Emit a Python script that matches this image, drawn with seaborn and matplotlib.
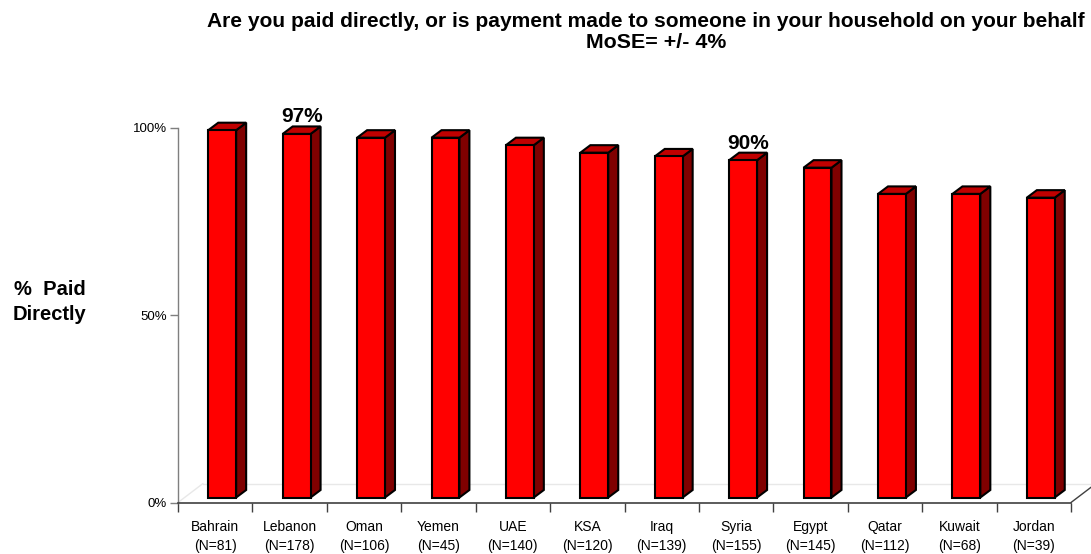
import numpy as np
import pandas as pd
import matplotlib
matplotlib.use("Agg")
import matplotlib.pyplot as plt
from matplotlib.patches import Polygon
from matplotlib.transforms import offset_copy
import seaborn as sns

# ---- data -------------------------------------------------------------
countries = ["Bahrain", "Lebanon", "Oman", "Yemen", "UAE", "KSA",
             "Iraq", "Syria", "Egypt", "Qatar", "Kuwait", "Jordan"]
sample_sizes = [81, 178, 106, 45, 140, 120, 139, 155, 145, 112, 68, 39]
paid_directly = [98, 97, 96, 96, 94, 92, 91, 90, 88, 81, 81, 80]
value_labels = ["", "97%", "", "", "", "", "", "90%", "", "", "", ""]
y_ticks = [0, 50, 100]
y_tick_labels = ["0%", "50%", "100%"]
title_lines = ["Are you paid directly, or is payment made to someone in your household on your behalf",
               "MoSE= +/- 4%"]
y_title = "%  Paid\nDirectly"

# ---- style ------------------------------------------------------------
sns.set_style("white")
plt.rcParams["font.family"] = ["Liberation Sans", "DejaVu Sans"]
plt.rcParams["text.color"] = "black"

df = pd.DataFrame({
    "label": [f"{c}\n(N={n})" for c, n in zip(countries, sample_sizes)],
    "value": paid_directly,
})

W, H = 1091, 554
fig = plt.figure(figsize=(W / 100, H / 100), dpi=100)
ax = fig.add_axes([178 / W, 1 - 502.5 / H, (1071 - 178) / W, (502.5 - 127.7) / H])

# oblique 3-D offsets, in pixels
FRONT_DX, FRONT_DY = 7, 5      # bars stand a little behind the floor edge
BAR_DX, BAR_DY = 10, 7.5       # depth of each bar
FLOOR_DX, FLOOR_DY = 25, 19    # depth of the floor

FRONT_RED, TOP_RED, SIDE_RED = "#FF0000", "#C00000", "#800000"

sns.barplot(data=df, x="label", y="value", color=FRONT_RED, saturation=1,
            width=0.375, edgecolor="black", linewidth=1.5, errorbar=None,
            ax=ax, zorder=3)

ax.set_xlim(-0.5, len(countries) - 0.5)
ax.set_ylim(0, 100)
ax.set_xlabel("")
ax.set_ylabel("")

# pixel size of one data unit
o = ax.transData.transform((0, 0))
sx = ax.transData.transform((1, 0))[0] - o[0]
sy = ax.transData.transform((0, 1))[1] - o[1]

front = offset_copy(ax.transData, fig=fig, x=FRONT_DX, y=FRONT_DY, units="dots")
ddx, ddy = BAR_DX / sx, BAR_DY / sy

for p in ax.patches:
    x0, w, h = p.get_x(), p.get_width(), p.get_height()
    x1 = x0 + w
    p.set_transform(front)
    p.set_clip_on(False)
    p.set_joinstyle("miter")
    side = [(x1, 0), (x1 + ddx, ddy), (x1 + ddx, h + ddy), (x1, h)]
    top = [(x0, h), (x1, h), (x1 + ddx, h + ddy), (x0 + ddx, h + ddy)]
    for pts, fc in ((side, SIDE_RED), (top, TOP_RED)):
        ax.add_patch(Polygon(pts, closed=True, facecolor=fc, edgecolor="black",
                             linewidth=1.5, joinstyle="miter", transform=front,
                             clip_on=False, zorder=2))

# floor outline
fdx, fdy = FLOOR_DX / sx, FLOOR_DY / sy
n = len(countries)
ax.plot([-0.5 + fdx, n - 0.5 + fdx], [fdy, fdy], color="#e8e8e8", lw=1,
        clip_on=False, zorder=0)
ax.plot([-0.5, -0.5 + fdx], [0, fdy], color="#e8e8e8", lw=1,
        clip_on=False, zorder=0)
ax.plot([n - 0.5, n - 0.5 + fdx], [0, fdy], color="#404040", lw=1,
        clip_on=False, zorder=1)

# value labels
lab_tr = offset_copy(ax.transData, fig=fig, x=FRONT_DX + BAR_DX / 2,
                     y=FRONT_DY + BAR_DY + 4, units="dots")
for i, (v, lab) in enumerate(zip(paid_directly, value_labels)):
    if lab:
        ax.text(i, v, lab, transform=lab_tr, ha="center", va="baseline",
                fontsize=15, fontweight="bold", color="black")

# axes styling
for s in ("top", "right"):
    ax.spines[s].set_visible(False)
ax.spines["left"].set_color("#7f7f7f")
ax.spines["left"].set_linewidth(1)
ax.spines["bottom"].set_color("#404040")
ax.spines["bottom"].set_linewidth(1.2)

ax.set_xticks(range(n))
ax.set_xticklabels(df["label"], fontsize=10, linespacing=1.5, color="black")
ax.set_xticks(np.arange(-0.5, n, 1), minor=True)
ax.tick_params(axis="x", which="major", bottom=True, length=0, pad=12.5)
ax.tick_params(axis="x", which="minor", bottom=True, length=6.5, width=1,
               color="#404040", direction="out")

ax.set_yticks(y_ticks)
ax.set_yticklabels(y_tick_labels, fontsize=9.5, color="black")
ax.tick_params(axis="y", left=True, length=5.8, width=1, color="#7f7f7f",
               direction="out", pad=2)
ax.set_facecolor("white")

# titles
fig.text(207 / W, 1 - 27 / H, title_lines[0], ha="left", va="baseline",
         fontsize=15.1, fontweight="bold", color="black")
fig.text(656 / W, 1 - 48 / H, title_lines[1], ha="center", va="baseline",
         fontsize=15.4, fontweight="bold", color="black")
fig.text(50 / W, 1 - 302 / H, y_title, ha="center", va="center",
         fontsize=14.5, fontweight="bold", linespacing=1.45, color="black")

fig.savefig("out.png", dpi=100, facecolor="white")
